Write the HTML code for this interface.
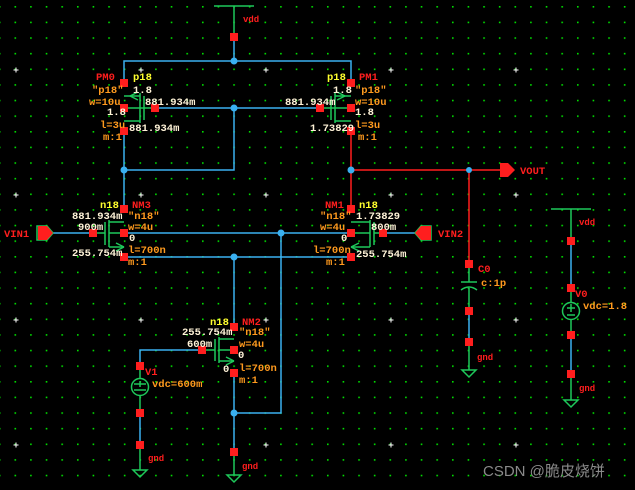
<!DOCTYPE html>
<html><head><meta charset="utf-8"><style>
html,body{margin:0;padding:0;background:#000;}
svg{display:block;}
text{font-family:"Liberation Mono",monospace;font-size:10.5px;font-weight:bold;}
.r{fill:#ff1e1e}.o{fill:#ff9a1e}.y{fill:#ffff2e}.w{fill:#fff3d8}
</style></head><body>
<svg width="635" height="490" viewBox="0 0 635 490" xmlns="http://www.w3.org/2000/svg">
<defs>
<pattern id="g" x="14" y="5.5" width="15.625" height="15.625" patternUnits="userSpaceOnUse">
<rect x="0.5" y="0.5" width="1.6" height="1.6" fill="#00e000"/></pattern>
<pattern id="p" x="138.5" y="67.5" width="125" height="125" patternUnits="userSpaceOnUse">
<path d="M2.5 0V5M0 2.5H5" stroke="#fff" stroke-width="1"/></pattern>
</defs>
<rect width="635" height="490" fill="#000"/>
<rect width="635" height="490" fill="url(#g)"/>
<rect width="635" height="490" fill="url(#p)"/>

<g fill="none" stroke-width="1.5">
<g stroke="#3ab0f0">
<path d="M234 37V61M124 83V61H351V83"/>
<path d="M155 108H320"/>
<path d="M124 131V209M124 170H234V108"/>
<path d="M53 233H93M124 233H351M383 233H415"/>
<path d="M124 257H351M234 257V327M281 233V413H234M234 373V452"/>
<path d="M202 350H140V366M140 413V445"/>
<path d="M469 311V342M571 241V288M571 335V374"/>
</g>
<g stroke="#ff1e1e">
<path d="M351 131V209M351 170H505M469 170V264"/>
</g>
<g stroke="#1ec85a">
<path d="M214 6H254M234 6V37"/>
<path d="M124 96H140M140 93V123M144 96V120M124 108H144M144 108H155M124 121H140"/>
<path d="M130 96l8-4M130 96l8 4"/>
<path d="M351 96H335M335 93V123M331 96V120M351 108H331M331 108H320M351 121H335"/>
<path d="M345 96l-8-4M345 96l-8 4"/>
<path d="M124 222H109M109 220V247M105 222V245M124 233H109M105 233H93M124 247H109"/>
<path d="M124 247l-8-4M124 247l-8 4"/>
<path d="M351 222H370M370 220V247M374 222V245M351 233H370M374 233H383M351 247H370"/>
<path d="M351 247l8-4M351 247l8 4"/>
<path d="M234 339H219M219 337V363M215 339V361M234 350H219M215 350H202M234 361H219"/>
<path d="M234 361l-8-4M234 361l-8 4"/>
<path d="M140 366V378M140 396V413M140 445V470"/>
<circle cx="140" cy="387" r="8.5"/>
<path d="M134 384H146M134 390H146M140 381V387"/>
<path d="M133 470H147L140 477Z"/>
<path d="M234 452V475M227 475H241L234 482Z"/>
<path d="M469 264V282M469 288V311M469 342V370M461 282H477M461 290Q469 284 477 290M462 370H476L469 377Z"/>
<path d="M551 209H591M571 209V241M571 288V302M571 320V335M571 374V400M564 400H578L571 407Z"/>
<circle cx="571" cy="311" r="8.5"/>
<path d="M567 308H575M571 304V312M567 315H575"/>
<path d="M53 233l-6-7H37V240H47Z"/>
<path d="M415 233l6-7H431V240H421Z"/>
</g>
</g>

<path d="M38 226H47L53 233L47 240H38Z" fill="#ff1e1e"/>
<path d="M431 226H421L415 233L421 240H431Z" fill="#ff1e1e"/>
<path d="M500 163H508L515 170L508 177H500Z" fill="#ff1e1e"/>

<g fill="#ff1e1e">
<rect x="230" y="33" width="8" height="8"/>
<rect x="120" y="79" width="8" height="8"/><rect x="120" y="104" width="8" height="8"/><rect x="120" y="127" width="8" height="8"/>
<rect x="151" y="104" width="8" height="8"/>
<rect x="347" y="79" width="8" height="8"/><rect x="347" y="104" width="8" height="8"/><rect x="347" y="127" width="8" height="8"/>
<rect x="316" y="104" width="8" height="8"/>
<rect x="120" y="205" width="8" height="8"/><rect x="120" y="229" width="8" height="8"/><rect x="120" y="253" width="8" height="8"/>
<rect x="89" y="229" width="8" height="8"/>
<rect x="347" y="205" width="8" height="8"/><rect x="347" y="229" width="8" height="8"/><rect x="347" y="253" width="8" height="8"/>
<rect x="379" y="229" width="8" height="8"/>
<rect x="230" y="323" width="8" height="8"/><rect x="230" y="346" width="8" height="8"/><rect x="230" y="369" width="8" height="8"/>
<rect x="198" y="346" width="8" height="8"/><rect x="230" y="448" width="8" height="8"/>
<rect x="136" y="362" width="8" height="8"/><rect x="136" y="409" width="8" height="8"/><rect x="136" y="441" width="8" height="8"/>
<rect x="465" y="260" width="8" height="8"/><rect x="465" y="307" width="8" height="8"/><rect x="465" y="338" width="8" height="8"/>
<rect x="567" y="237" width="8" height="8"/><rect x="567" y="284" width="8" height="8"/><rect x="567" y="331" width="8" height="8"/><rect x="567" y="370" width="8" height="8"/>
</g>
<g fill="#3ab0f0">
<circle cx="234" cy="61" r="3.5"/><circle cx="234" cy="108" r="3.5"/><circle cx="124" cy="170" r="3.5"/>
<circle cx="351" cy="170" r="3.5"/><circle cx="469" cy="170" r="3"/><circle cx="281" cy="233" r="3.5"/>
<circle cx="234" cy="257" r="3.5"/><circle cx="234" cy="413" r="3.5"/>
</g>

<text x="243" y="22" class="r" style="font-size:9px">vdd</text>
<text x="96" y="80" class="r">PM0</text>
<text x="92" y="93" class="o">"p18"</text>
<text x="89" y="105" class="o">w=10u</text>
<text x="107" y="115" class="w">1.8</text>
<text x="100" y="128" class="o">l=3u</text>
<text x="103" y="140" class="o">m:1</text>
<text x="133" y="80" class="y">p18</text>
<text x="133" y="93" class="w">1.8</text>
<text x="145" y="105" class="w">881.934m</text>
<text x="129" y="131" class="w">881.934m</text>

<text x="327" y="80" class="y">p18</text>
<text x="359" y="80" class="r">PM1</text>
<text x="333" y="93" class="w">1.8</text>
<text x="355" y="93" class="o">"p18"</text>
<text x="285" y="105" class="w">881.934m</text>
<text x="355" y="105" class="o">w=10u</text>
<text x="355" y="115" class="w">1.8</text>
<text x="310" y="131" class="w">1.73829</text>
<text x="355" y="128" class="o">l=3u</text>
<text x="358" y="140" class="o">m:1</text>

<text x="4" y="237" class="r">VIN1</text>
<text x="100" y="208" class="y">n18</text>
<text x="132" y="208" class="r">NM3</text>
<text x="72" y="219" class="w">881.934m</text>
<text x="128" y="219" class="o">"n18"</text>
<text x="78" y="230" class="w">900m</text>
<text x="128" y="230" class="o">w=4u</text>
<text x="129" y="241" class="w">0</text>
<text x="72" y="256" class="w">255.754m</text>
<text x="128" y="253" class="o">l=700n</text>
<text x="128" y="265" class="o">m:1</text>

<text x="325" y="208" class="r">NM1</text>
<text x="359" y="208" class="y">n18</text>
<text x="320" y="219" class="o">"n18"</text>
<text x="356" y="219" class="w">1.73829</text>
<text x="320" y="230" class="o">w=4u</text>
<text x="371" y="230" class="w">800m</text>
<text x="341" y="241" class="w">0</text>
<text x="313" y="253" class="o">l=700n</text>
<text x="356" y="257" class="w">255.754m</text>
<text x="326" y="265" class="o">m:1</text>
<text x="438" y="237" class="r">VIN2</text>
<text x="520" y="174" class="r">VOUT</text>

<text x="210" y="325" class="y">n18</text>
<text x="242" y="325" class="r">NM2</text>
<text x="182" y="335" class="w">255.754m</text>
<text x="239" y="335" class="o">"n18"</text>
<text x="187" y="347" class="w">600m</text>
<text x="239" y="347" class="o">w=4u</text>
<text x="238" y="358" class="w">0</text>
<text x="223" y="372" class="w">0</text>
<text x="239" y="371" class="o">l=700n</text>
<text x="239" y="383" class="o">m:1</text>
<text x="145" y="375" class="r">V1</text>
<text x="152" y="387" class="o">vdc=600m</text>
<text x="148" y="461" class="r" style="font-size:9px">gnd</text>
<text x="242" y="469" class="r" style="font-size:9px">gnd</text>

<text x="478" y="272" class="r">C0</text>
<text x="481" y="286" class="o">c:1p</text>
<text x="477" y="360" class="r" style="font-size:9px">gnd</text>
<text x="579" y="225" class="r" style="font-size:9px">vdd</text>
<text x="575" y="297" class="r">V0</text>
<text x="583" y="309" class="o">vdc=1.8</text>
<text x="579" y="391" class="r" style="font-size:9px">gnd</text>

<text x="483" y="476" style="font-family:'Liberation Sans','Noto Sans CJK SC',sans-serif;font-size:15px;font-weight:normal;fill:#8a8a8a">CSDN @脆皮烧饼</text>
</svg>
</body></html>
